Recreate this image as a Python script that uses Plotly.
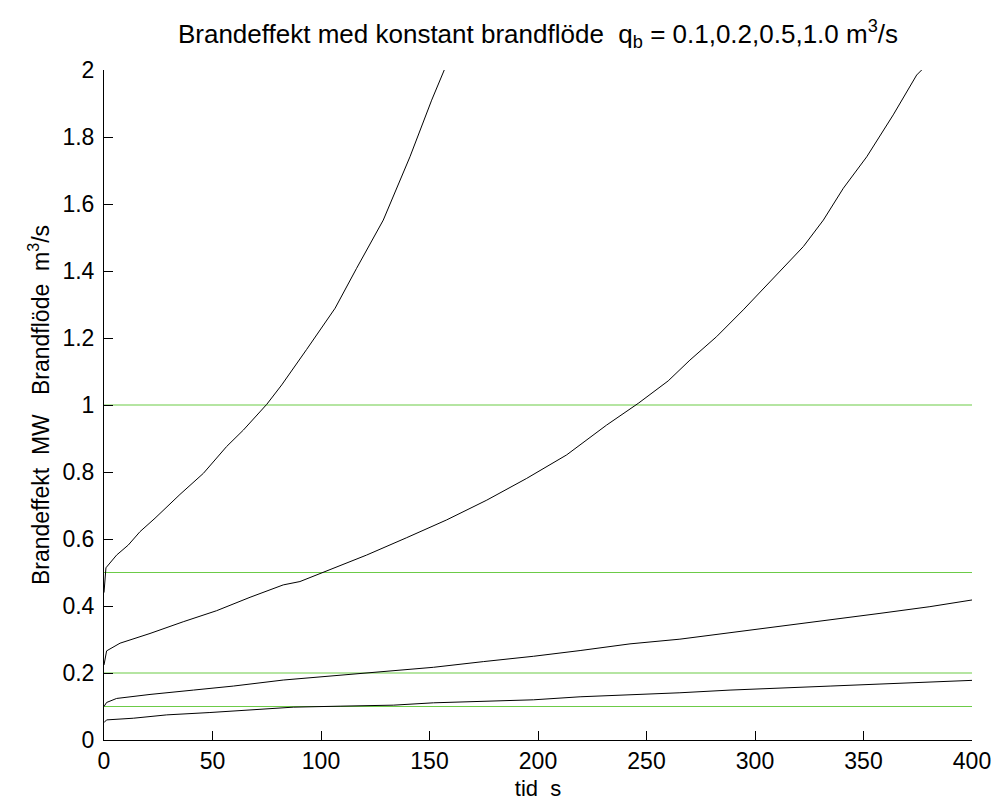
import plotly.graph_objects as go

# Curve for q_b = 1.0 m3/s
t_q10 = [0, 0.9, 5.8, 11.2, 16.6, 23.5, 35, 45.8, 56.5, 64.2, 75, 81.9, 93.4, 106.5,
         116.4, 128.7, 141, 151, 156.8]
v_q10 = [0.44, 0.514, 0.552, 0.582, 0.622, 0.662, 0.733, 0.796, 0.876, 0.925, 1.002, 1.06,
         1.166, 1.289, 1.408, 1.552, 1.741, 1.910, 2.0]

# Curve for q_b = 0.5 m3/s
t_q05 = [0, 1.2, 7.4, 21.2, 36.5, 51.9, 67.3, 82.6, 90.3, 102.6, 121, 139.5, 157.9, 176.4,
         194.8, 213.2, 231.6, 246.2, 260, 270, 282.3, 294.6, 310, 322.3, 331.5, 340.7,
         351.5, 363.7, 374.5, 376.8]
v_q05 = [0.224, 0.266, 0.289, 0.318, 0.353, 0.386, 0.426, 0.463, 0.473, 0.505, 0.552, 0.604,
         0.657, 0.716, 0.781, 0.851, 0.940, 1.005, 1.072, 1.134, 1.204, 1.284, 1.388, 1.473,
         1.552, 1.647, 1.741, 1.866, 1.985, 2.0]

# Curve for q_b = 0.2 m3/s
t_q02 = [0, 1.2, 5.8, 21.2, 41.2, 59.6, 82.6, 105.7, 128.7, 151.8, 174.8, 198, 219.4,
         242.4, 265.4, 288.5, 311.5, 334.6, 357.6, 380.6, 400]
v_q02 = [0.1, 0.112, 0.124, 0.136, 0.149, 0.161, 0.179, 0.191, 0.204, 0.217, 0.234, 0.250,
         0.267, 0.287, 0.301, 0.320, 0.338, 0.358, 0.378, 0.398, 0.418]

# Curve for q_b = 0.1 m3/s
t_q01 = [0, 1.2, 13.5, 28.9, 48.8, 67.3, 87.2, 108.8, 133.3, 151.8, 174.8, 198, 219.4,
         242.4, 265.4, 288.5, 311.5, 334.6, 357.6, 380.6, 400]
v_q01 = [0.052, 0.06, 0.065, 0.075, 0.082, 0.090, 0.098, 0.101, 0.104, 0.111, 0.116, 0.120,
         0.129, 0.134, 0.141, 0.149, 0.154, 0.161, 0.167, 0.174, 0.178]

# Constant fire flow levels (green reference lines)
qb_levels = [0.1, 0.2, 0.5, 1.0]
t_range = [0, 400]

x_ticks = [0, 50, 100, 150, 200, 250, 300, 350, 400]
y_ticks = [0, 0.2, 0.4, 0.6, 0.8, 1.0, 1.2, 1.4, 1.6, 1.8, 2.0]
y_ticklabels = ["0", "0.2", "0.4", "0.6", "0.8", "1", "1.2", "1.4", "1.6", "1.8", "2"]

FONT = "Liberation Sans, Arial, sans-serif"
GREEN = "#6ccb47"

fig = go.Figure()

for q in qb_levels:
    fig.add_trace(go.Scatter(x=t_range, y=[q, q], mode="lines",
                             line=dict(color=GREEN, width=1.2), showlegend=False,
                             hoverinfo="skip"))

for tt, vv in [(t_q10, v_q10), (t_q05, v_q05), (t_q02, v_q02), (t_q01, v_q01)]:
    fig.add_trace(go.Scatter(x=tt, y=vv, mode="lines",
                             line=dict(color="black", width=1), showlegend=False))

fig.update_layout(
    width=996, height=807,
    margin=dict(l=104, r=24, t=70, b=67),
    paper_bgcolor="white", plot_bgcolor="white",
    font=dict(family=FONT, color="black"),
    title=dict(text="Brandeffekt med konstant brandflöde  q<sub>b</sub> = 0.1,0.2,0.5,1.0 m<sup>3</sup>/s",
               x=0.5, xref="paper", xanchor="center", y=0.958, yanchor="middle",
               font=dict(size=26, family=FONT, color="black")),
)

fig.update_xaxes(range=[0, 400], tickvals=x_ticks, ticks="inside", ticklen=9,
                 tickcolor="black", showline=True, linecolor="black", linewidth=1,
                 mirror=False, showgrid=False, zeroline=False, automargin=False,
                 ticklabeloverflow="allow",
                 tickfont=dict(size=23, family=FONT, color="black"),
                 title=dict(text="tid  s", font=dict(size=22, family=FONT), standoff=8))
fig.update_yaxes(range=[0, 2], tickvals=y_ticks, ticktext=y_ticklabels, ticks="inside",
                 ticklen=9, tickcolor="black", showline=True, linecolor="black",
                 linewidth=1, mirror=False, showgrid=False, zeroline=False,
                 automargin=False, ticklabelstandoff=4,
                 tickfont=dict(size=23, family=FONT, color="black"),
                 title=dict(text="Brandeffekt  MW   Brandflöde  m<sup>3</sup>/s",
                            font=dict(size=23, family=FONT), standoff=6))

fig.write_html("out.html")
